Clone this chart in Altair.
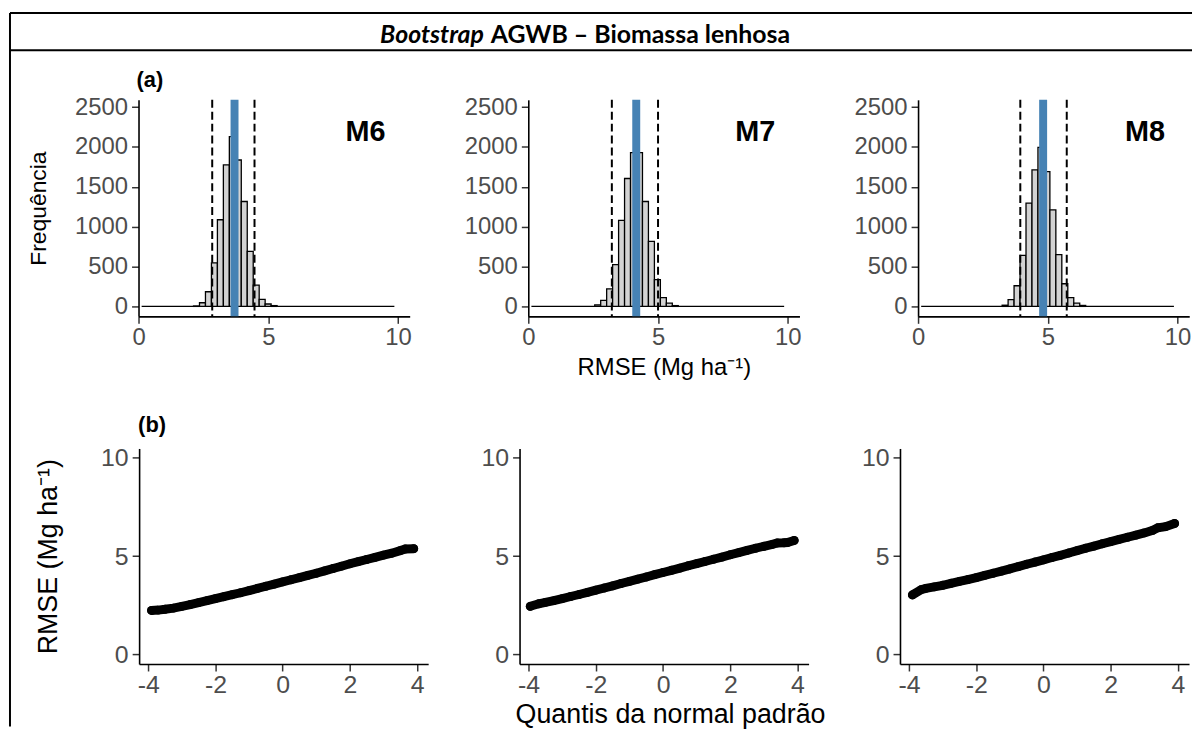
import altair as alt
import pandas as pd

# ---------------- data ----------------
MODELS = ["M6", "M7", "M8"]

BIN_WIDTH = 0.23
M6_BIN_START = 2.12
M7_BIN_START = 2.56
M8_BIN_START = 3.24
M6_COUNTS = [5, 46, 184, 546, 1087, 1775, 2129, 1837, 1316, 691, 266, 87, 30, 10]
M7_COUNTS = [20, 75, 220, 525, 1080, 1605, 1930, 1930, 1316, 816, 337, 110, 40, 10]
M8_COUNTS = [15, 84, 259, 641, 1296, 1712, 1996, 1691, 1212, 650, 284, 109, 40, 12]

MEANS = [3.70, 4.16, 4.82]
CI_LOW = [2.84, 3.22, 3.94]
CI_HIGH = [4.47, 5.00, 5.73]
ZERO_LINE = [0.12, 9.86]

HIST_X_TICKS = [0, 5, 10]
HIST_Y_TICKS = [0, 500, 1000, 1500, 2000, 2500]
QQ_X_TICKS = [-4, -2, 0, 2, 4]
QQ_Y_TICKS = [0, 5, 10]

M6_QQ_X = [-3.90, -3.70, -3.50, -3.25, -3.00, -2.75, -2.50, -2.25, -2.00, -1.75, -1.50,
           -1.25, -1.00, -0.75, -0.50, -0.25, 0.00, 0.25, 0.50, 0.75, 1.00, 1.25, 1.50,
           1.75, 2.00, 2.25, 2.50, 2.75, 3.00, 3.25, 3.50, 3.65, 3.90]
M6_QQ_Y = [2.24, 2.26, 2.30, 2.36, 2.45, 2.54, 2.64, 2.74, 2.84, 2.94, 3.04,
           3.14, 3.25, 3.36, 3.47, 3.58, 3.69, 3.80, 3.91, 4.02, 4.13, 4.25, 4.37,
           4.49, 4.61, 4.72, 4.83, 4.94, 5.05, 5.15, 5.28, 5.36, 5.38]
M7_QQ_X = [-3.95, -3.70, -3.50, -3.25, -3.00, -2.75, -2.50, -2.25, -2.00, -1.75, -1.50,
           -1.25, -1.00, -0.75, -0.50, -0.25, 0.00, 0.25, 0.50, 0.75, 1.00, 1.25, 1.50,
           1.75, 2.00, 2.25, 2.50, 2.75, 3.00, 3.25, 3.40, 3.60, 3.70, 3.90]
M7_QQ_Y = [2.45, 2.58, 2.65, 2.74, 2.84, 2.95, 3.05, 3.16, 3.27, 3.38, 3.49,
           3.61, 3.72, 3.83, 3.94, 4.06, 4.17, 4.28, 4.39, 4.51, 4.62, 4.73, 4.84,
           4.95, 5.07, 5.18, 5.29, 5.40, 5.50, 5.60, 5.67, 5.68, 5.69, 5.80]
M8_QQ_X = [-3.90, -3.64, -3.50, -3.25, -3.00, -2.75, -2.50, -2.25, -2.00, -1.75, -1.50,
           -1.25, -1.00, -0.75, -0.50, -0.25, 0.00, 0.25, 0.50, 0.75, 1.00, 1.25, 1.50,
           1.75, 2.00, 2.25, 2.50, 2.75, 3.00, 3.25, 3.40, 3.63, 3.90]
M8_QQ_Y = [3.03, 3.30, 3.36, 3.44, 3.52, 3.62, 3.72, 3.81, 3.91, 4.02, 4.13,
           4.24, 4.35, 4.47, 4.59, 4.70, 4.81, 4.93, 5.04, 5.16, 5.28, 5.40, 5.51,
           5.63, 5.74, 5.85, 5.96, 6.07, 6.18, 6.31, 6.44, 6.50, 6.66]

TITLE_ITALIC = "Bootstrap"
TITLE_BOLD = "AGWB \u2013 Biomassa lenhosa"
LABEL_A = "(a)"
LABEL_B = "(b)"
HIST_Y_TITLE = "Frequência"
RMSE_TITLE = "RMSE (Mg ha\u207b\u00b9)"
QQ_X_TITLE = "Quantis da normal padrão"

BIN_STARTS = [M6_BIN_START, M7_BIN_START, M8_BIN_START]
HIST_COUNTS = [M6_COUNTS, M7_COUNTS, M8_COUNTS]
QQ_X = [M6_QQ_X, M7_QQ_X, M8_QQ_X]
QQ_Y = [M6_QQ_Y, M7_QQ_Y, M8_QQ_Y]

# ---------------- styling ----------------
AX_FONT = "Liberation Sans"
HW, HH = 273, 218      # histogram panel size
QW, QH = 291, 217      # qq panel size
BAR_FILL = "#D3D3D3"
BLUE = "#4682B4"


def hist_panel(i):
    counts = HIST_COUNTS[i]
    left = [BIN_STARTS[i] + k * BIN_WIDTH for k in range(len(counts))]
    bins = pd.DataFrame({"x0": left, "x1": [v + BIN_WIDTH for v in left], "n": counts})
    xs = alt.Scale(domain=[0, 10.45], nice=False, zero=False)
    ys = alt.Scale(domain=[-125, 2592], nice=False, zero=False)
    xaxis = alt.Axis(values=HIST_X_TICKS, labelExpr="'' + datum.value", labelPadding=2,
                     title=RMSE_TITLE if i == 1 else None, titleFontSize=24,
                     titleX=HW / 2, titleY=52, titleBaseline="middle", titleAlign="center")
    yaxis = alt.Axis(values=HIST_Y_TICKS, labelExpr="'' + datum.value", labelPadding=4,
                     title=HIST_Y_TITLE if i == 0 else None, titleFontSize=23,
                     titleX=-101, titleY=HH / 2, titleBaseline="middle", titleAlign="center")
    zero = alt.Chart(pd.DataFrame({"a": [ZERO_LINE[0]], "b": [ZERO_LINE[1]], "z": [0]})).mark_rule(
        color="black", strokeWidth=1.3).encode(
        x=alt.X("a:Q", scale=xs, axis=xaxis), x2="b", y=alt.Y("z:Q", scale=ys, axis=yaxis))
    bars = alt.Chart(bins).mark_bar(fill=BAR_FILL, stroke="black", strokeWidth=1.3).encode(
        x=alt.X("x0:Q", scale=xs), x2="x1", y=alt.Y("n:Q", scale=ys), y2=alt.datum(0))
    blue = alt.Chart(pd.DataFrame({"v": [MEANS[i]]})).mark_rule(color=BLUE, strokeWidth=8).encode(
        x=alt.X("v:Q", scale=xs))
    dashed = alt.Chart(pd.DataFrame({"v": [CI_LOW[i], CI_HIGH[i]]})).mark_rule(
        color="black", strokeWidth=2, strokeDash=[8, 4]).encode(x=alt.X("v:Q", scale=xs))
    label = alt.Chart(pd.DataFrame({"t": [MODELS[i]]})).mark_text(
        font=AX_FONT, fontSize=29, fontWeight="bold", color="black", align="center",
        baseline="middle").encode(x=alt.datum(8.75), y=alt.datum(2190), text="t:N")
    layers = [zero, bars, blue, dashed, label]
    if i == 0:
        layers.append(alt.Chart(pd.DataFrame({"t": [LABEL_A]})).mark_text(
            font=AX_FONT, fontSize=22, fontWeight="bold", color="black", align="left",
            baseline="middle").encode(x=alt.value(-2), y=alt.value(-20), text="t:N"))
    return alt.layer(*layers).properties(width=HW, height=HH)


def qq_panel(i):
    df = pd.DataFrame({"q": QQ_X[i], "r": QQ_Y[i]})
    xs = alt.Scale(domain=[-4.27, 4.33], nice=False, zero=False)
    ys = alt.Scale(domain=[-0.48, 10.47], nice=False, zero=False)
    xaxis = alt.Axis(values=QQ_X_TICKS, labelExpr="'' + datum.value", labelPadding=2,
                     labelFontSize=25,
                     title=QQ_X_TITLE if i == 1 else None, titleFontSize=27,
                     titleX=QW / 2 + 6, titleY=51, titleBaseline="middle", titleAlign="center")
    yaxis = alt.Axis(values=QQ_Y_TICKS, labelExpr="'' + datum.value", labelPadding=4,
                     labelFontSize=25,
                     title=RMSE_TITLE if i == 0 else None, titleFontSize=27,
                     titleX=-91, titleY=QH / 2, titleBaseline="middle", titleAlign="center")
    line = alt.Chart(df).mark_line(color="black", strokeWidth=9, strokeCap="round").encode(
        x=alt.X("q:Q", scale=xs, axis=xaxis), y=alt.Y("r:Q", scale=ys, axis=yaxis))
    pts = alt.Chart(df).mark_circle(color="black", size=80, opacity=1).encode(
        x=alt.X("q:Q", scale=xs), y=alt.Y("r:Q", scale=ys))
    layers = [line, pts]
    if i == 0:
        layers.append(alt.Chart(pd.DataFrame({"t": [LABEL_B]})).mark_text(
            font=AX_FONT, fontSize=22, fontWeight="bold", color="black", align="left",
            baseline="middle").encode(x=alt.value(-1), y=alt.value(-24), text="t:N"))
    return alt.layer(*layers).properties(width=QW, height=QH)


one = pd.DataFrame({"k": [0]})


def frame_rule(y1, y2):
    return alt.Chart(one).mark_rule(color="black", strokeWidth=2).encode(
        x=alt.value(0), y=alt.value(y1), y2=alt.value(y2))


def hline(y):
    return alt.Chart(one).mark_rule(color="black", strokeWidth=2).encode(
        x=alt.value(0), x2=alt.value(1190), y=alt.value(y))


title_df = pd.DataFrame({"a": [TITLE_ITALIC], "b": [TITLE_BOLD]})
title_it = alt.Chart(title_df).mark_text(
    font="Lato", fontSize=25, fontWeight="bold", fontStyle="italic", color="black",
    align="right", baseline="middle").encode(x=alt.value(477), y=alt.value(-65), text="a:N")
title_bd = alt.Chart(title_df).mark_text(
    font="Lato", fontSize=25, fontWeight="bold", color="black",
    align="left", baseline="middle").encode(x=alt.value(484), y=alt.value(-65), text="b:N")

spacer_a = alt.layer(frame_rule(-87.5, 289), hline(-87.5), hline(-50), title_it, title_bd
                     ).properties(width=9.9, height=HH)
spacer_b = alt.layer(frame_rule(-62, 280)).properties(width=37.3, height=QH)

row_a = alt.hconcat(spacer_a, hist_panel(0), hist_panel(1), hist_panel(2),
                    spacing=119.4, bounds="flush")
row_b = alt.hconcat(spacer_b, qq_panel(0), qq_panel(1), qq_panel(2),
                    spacing=92, bounds="flush")

chart = alt.vconcat(row_a, row_b, spacing=-4,
                    padding={"left": 0, "top": 1, "right": 0, "bottom": 0}).configure_view(
    stroke="transparent").configure_axis(
    grid=False, domainColor="black", domainWidth=1.6, tickColor="#333333", tickWidth=1.5,
    tickSize=7, labelColor="#4D4D4D", labelFont=AX_FONT, labelFontSize=24, labelFlush=False,
    titleFont=AX_FONT, titleColor="black", titleFontWeight="normal")

chart.save("out.html", embed_options={"renderer": "svg", "actions": False})
